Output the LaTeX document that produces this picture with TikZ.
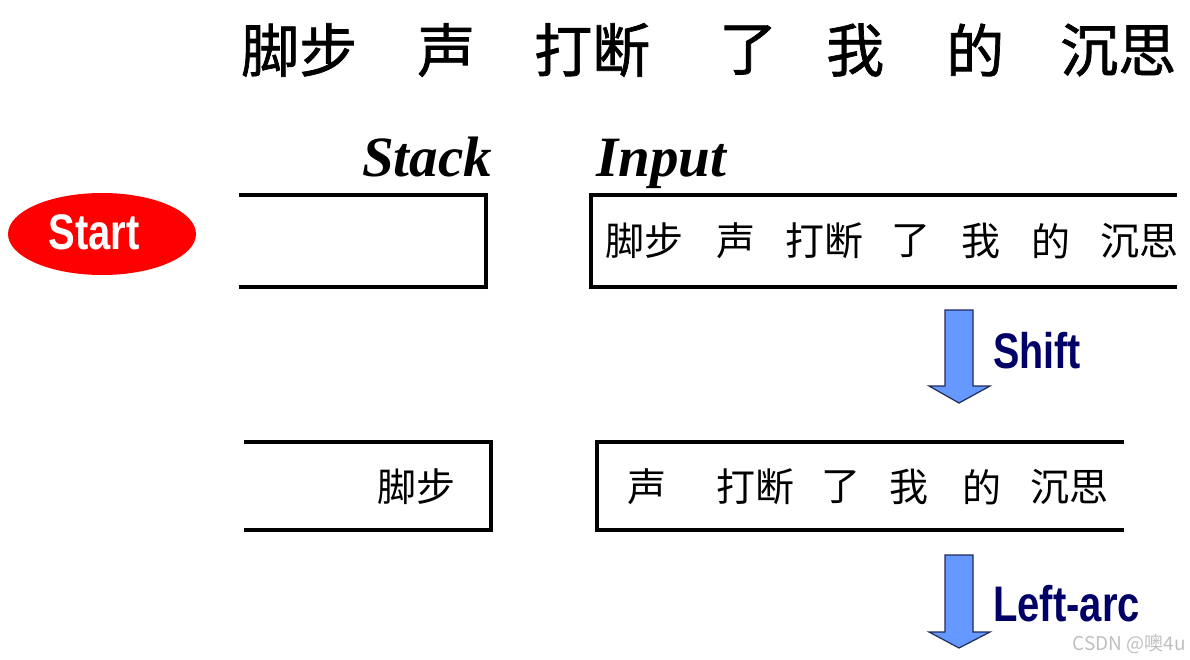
\documentclass[tikz,border=0pt]{standalone}
\usepackage{fontspec}
\usepackage{graphicx}
\usetikzlibrary{shapes.geometric}
\setmainfont{Liberation Serif}
\newfontfamily\cjk{Noto Sans CJK SC}
\newfontfamily\cjktitle[FakeBold=1.2]{Noto Sans CJK SC}
\newfontfamily\arialf{Liberation Sans}
\definecolor{arrowfill}{HTML}{6699FF}
\definecolor{arrowline}{HTML}{1F2A5A}
\definecolor{navy}{HTML}{000066}
\begin{document}
\begin{tikzpicture}[x=1pt,y=-1pt,
  cjkbig/.style={font=\cjktitle\fontsize{58}{60}\selectfont, inner sep=0pt, anchor=west},
  cjkbox/.style={font=\cjk\fontsize{39}{40}\selectfont, inner sep=0pt, anchor=west},
  headlabel/.style={font=\fontsize{57}{60}\selectfont\bfseries\itshape, inner sep=0pt, anchor=base west},
  boxline/.style={line width=3.5pt, line cap=rect},
  actlabel/.style={font=\arialf\bfseries\fontsize{50}{52}\selectfont, text=navy, inner sep=0pt, anchor=base west},
  blockarrow/.style={fill=arrowfill, draw=arrowline, line width=1.2pt, line join=miter},
  startnode/.style={ellipse, fill=red, minimum width=188pt, minimum height=82pt, inner sep=0pt}
]
\useasboundingbox (0,0) rectangle (1190,660);

% title
\node[cjkbig] (t1) at (241,50) {脚步};
\node[cjkbig] (t2) at (417,50) {声};
\node[cjkbig] (t3) at (534,50) {打断};
\node[cjkbig] (t4) at (719,50) {了};
\node[cjkbig] (t5) at (826,50) {我};
\node[cjkbig] (t6) at (946,50) {的};
\node[cjkbig] (t7) at (1060,50) {沉思};

% headers
\node[headlabel] (stack) at (362,177) {Stack};
\node[headlabel] (input) at (596,177) {Input};

% start
\node[startnode] (start) at (102,234) {};
\node[font=\arialf\bfseries\fontsize{50}{52}\selectfont, text=white, inner sep=0pt, anchor=base] (starttxt) at (94,250) {\scalebox{0.8}[1]{Start}};

% row 1 stack box
\draw[boxline] (241,195) -- (486,195) -- (486,287) -- (241,287);
% row 1 input box
\draw[boxline] (1175,195) -- (591,195) -- (591,287) -- (1175,287);
\node[cjkbox] (a1) at (605,241) {脚步};
\node[cjkbox] (a2) at (716,241) {声};
\node[cjkbox] (a3) at (785,241) {打断};
\node[cjkbox] (a4) at (891,241) {了};
\node[cjkbox] (a5) at (961,241) {我};
\node[cjkbox] (a6) at (1031,241) {的};
\node[cjkbox] (a7) at (1100,241) {沉思};

% shift arrow
\draw[blockarrow] (945,310) -- (973,310) -- (973,386) -- (990,386) -- (959,403) -- (929,386) -- (945,386) -- cycle;
\node[actlabel] (shift) at (993,368) {\scalebox{0.79}[1]{Shift}};

% row 2 stack box
\draw[boxline] (246,442) -- (491,442) -- (491,530) -- (246,530);
\node[cjkbox] (s1) at (377,487) {脚步};
% row 2 input box
\draw[boxline] (1122,442) -- (597,442) -- (597,530) -- (1122,530);
\node[cjkbox] (b2) at (627,487) {声};
\node[cjkbox] (b3) at (716,487) {打断};
\node[cjkbox] (b4) at (821,487) {了};
\node[cjkbox] (b5) at (889,487) {我};
\node[cjkbox] (b6) at (962,487) {的};
\node[cjkbox] (b7) at (1030,487) {沉思};

% left-arc arrow
\draw[blockarrow] (945,555) -- (973,555) -- (973,632) -- (990,632) -- (959,648) -- (929,632) -- (945,632) -- cycle;
\node[actlabel] (leftarc) at (993,621) {\scalebox{0.8}[1]{Left-arc}};

% watermark
\node[font=\cjk\fontsize{19}{20}\selectfont, text=black!25, inner sep=0pt, anchor=east] (wm) at (1186,644) {CSDN @噢4u};
\end{tikzpicture}
\end{document}
